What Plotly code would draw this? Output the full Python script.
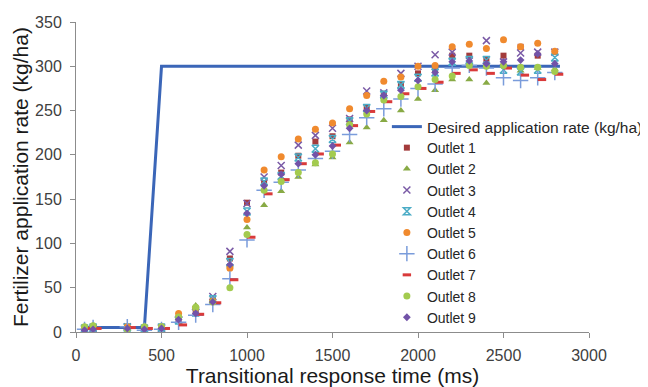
import plotly.graph_objects as go

# ---- data ----
times = [50, 100, 300, 400, 500, 600, 700, 800, 900, 1000, 1100, 1200, 1300, 1400,
         1500, 1600, 1700, 1800, 1900, 2000, 2100, 2200, 2300, 2400, 2500, 2600, 2700, 2800]
times_o7 = [75, 125, 325, 425, 525, 625, 725, 825, 925, 1025, 1125, 1225, 1325, 1425,
            1525, 1625, 1725, 1825, 1925, 2025, 2125, 2225, 2325, 2425, 2525, 2625, 2725, 2825]

desired_x = [50, 400, 500, 2830]
desired_y = [5, 5, 300, 300]

outlet1 = [4, 5, 5, 4, 5, 15, 24, 36, 83, 146, 168, 180, 199, 215, 221, 240, 254, 269, 280, 292, 297, 312, 312, 308, 312, 322, 312, 316]
outlet2 = [6, 8, 4, 6, 6, 18, 30, 33, 75, 118, 143, 159, 175, 189, 197, 214, 231, 239, 250, 263, 273, 285, 285, 281, 300, 295, 298, 297]
outlet3 = [3, 4, 6, 3, 4, 14, 22, 40, 91, 145, 175, 188, 211, 222, 230, 241, 272, 270, 292, 300, 313, 316, 306, 329, 305, 315, 316, 316]
outlet4 = [4, 5, 5, 4, 5, 13, 22, 37, 79, 136, 170, 176, 197, 207, 218, 238, 253, 268, 279, 287, 293, 305, 307, 307, 296, 294, 296, 310]
outlet5 = [5, 6, 6, 5, 6, 21, 27, 35, 72, 127, 183, 198, 218, 229, 236, 252, 267, 283, 288, 300, 301, 322, 325, 320, 330, 322, 326, 317]
outlet6 = [3, 5, 6, 2, 3, 11, 19, 31, 60, 104, 160, 169, 183, 196, 204, 223, 242, 252, 263, 275, 280, 298, 301, 298, 287, 284, 287, 293]
outlet7 = [4, 4, 5, 4, 4, 8, 20, 33, 59, 107, 156, 172, 190, 201, 211, 233, 249, 260, 269, 275, 282, 292, 296, 292, 298, 290, 285, 291]
outlet8 = [6, 7, 3, 6, 6, 17, 28, 34, 50, 110, 160, 170, 180, 191, 201, 234, 246, 262, 266, 277, 285, 289, 301, 300, 301, 299, 299, 294]
outlet9 = [2, 3, 4, 3, 4, 14, 21, 34, 76, 134, 165, 178, 190, 200, 210, 230, 250, 267, 273, 284, 293, 305, 306, 303, 305, 307, 314, 303]

legend_names = ["Desired application rate (kg/ha)", "Outlet 1", "Outlet 2", "Outlet 3",
                "Outlet 4", "Outlet 5", "Outlet 6", "Outlet 7", "Outlet 8", "Outlet 9"]
x_ticks = [0, 500, 1000, 1500, 2000, 2500, 3000]
y_ticks = [0, 50, 100, 150, 200, 250, 300, 350]

# ---- styles ----
styles = [
    (outlet1, times, dict(symbol="square", size=6, color="#A33B3B")),
    (outlet2, times, dict(symbol="triangle-up", size=7, color="#88AA45")),
    (outlet3, times, dict(symbol="x-thin-open", size=7, color="#7A5AA6", line=dict(width=1.5, color="#7A5AA6"))),
    (outlet4, times, dict(symbol="hourglass-open", size=7, color="#4BACC6", line=dict(width=1.5, color="#4BACC6"))),
    (outlet5, times, dict(symbol="circle", size=7, color="#F08A2E")),
    (outlet6, times, dict(symbol="cross-thin-open", size=11, color="#7A9CDB", line=dict(width=1.5, color="#7A9CDB"))),
    (outlet7, times_o7, dict(symbol="line-ew-open", size=6, color="#D93A3A", line=dict(width=3, color="#D93A3A"))),
    (outlet8, times, dict(symbol="circle", size=7, color="#A3CB4F")),
    (outlet9, times, dict(symbol="diamond", size=6, color="#7253A8")),
]

fig = go.Figure()
fig.add_trace(go.Scatter(x=desired_x, y=desired_y, mode="lines", name=legend_names[0],
                         line=dict(color="#3B66B8", width=3), legend="legend2"))
for i, (vals, tx, mk) in enumerate(styles):
    fig.add_trace(go.Scatter(x=tx, y=vals, mode="markers", name=legend_names[i + 1], marker=mk,
                             legend="legend"))

# page body adds an 8px offset, so the figure is 8px smaller and shifted
fig.update_layout(
    width=640, height=379,
    margin=dict(l=68, r=59, t=14, b=55, autoexpand=False),
    paper_bgcolor="white", plot_bgcolor="white",
    font=dict(family="Liberation Sans, Arial, sans-serif", color="#262626"),
    showlegend=True,
    legend2=dict(x=0.606, y=0.716, xanchor="left", yanchor="top", bgcolor="rgba(0,0,0,0)",
                 font=dict(size=15.5, color="#262626"), itemwidth=30),
    legend=dict(x=0.606, y=0.645, xanchor="left", yanchor="top", bgcolor="rgba(0,0,0,0)",
                font=dict(size=14, color="#262626"), tracegroupgap=0, itemwidth=30),
    xaxis=dict(range=[0, 3000], tickvals=x_ticks, showgrid=False, zeroline=False,
               showline=True, linecolor="#8C8C8C", linewidth=1, automargin=False,
               ticks="outside", ticklen=5, tickcolor="#8C8C8C",
               tickfont=dict(size=16, color="#404040"), ticklabelstandoff=4,
               title=dict(text="Transitional response time (ms)", font=dict(size=21, color="#1a1a1a"), standoff=6)),
    yaxis=dict(range=[0, 350], tickvals=y_ticks, showgrid=False, zeroline=False,
               showline=True, linecolor="#8C8C8C", linewidth=1, automargin=False,
               ticks="outside", ticklen=5, tickcolor="#8C8C8C",
               tickfont=dict(size=16, color="#404040"), ticklabelstandoff=5,
               title=dict(text="Fertilizer application rate (kg/ha)", font=dict(size=21, color="#1a1a1a"), standoff=0)),
)

fig.write_html("out.html")
